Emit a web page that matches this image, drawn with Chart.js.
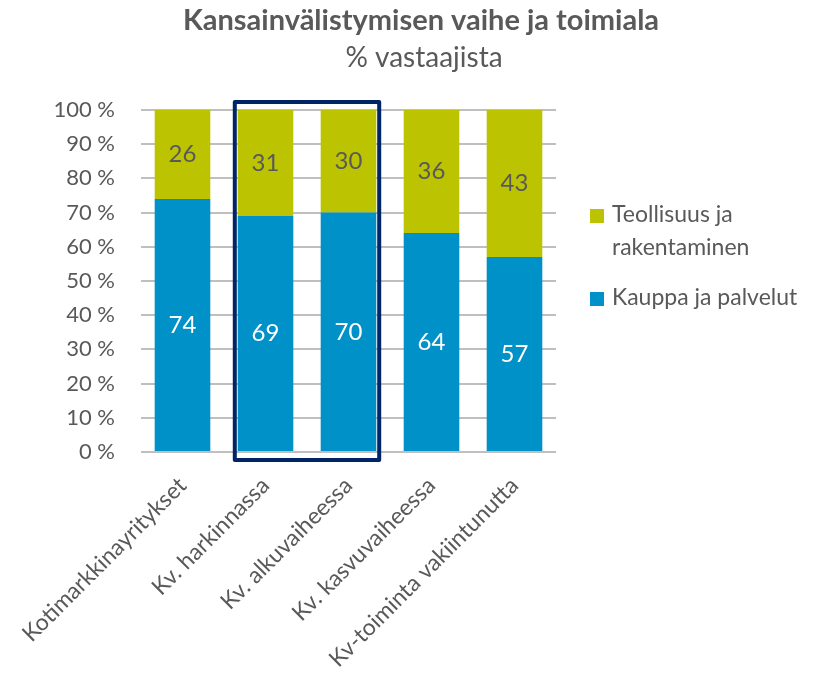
<!DOCTYPE html>
<html>
<head>
<meta charset="utf-8">
<script src="https://cdn.jsdelivr.net/npm/chart.js@4"></script>
<style>
  html, body { margin: 0; padding: 0; background: #fff; }
  #wrap { width: 825px; height: 681px; }
</style>
</head>
<body>
<div id="wrap"><canvas id="chart" width="825" height="681"></canvas></div>
<script>
const categories = ['Kotimarkkinayritykset', 'Kv. harkinnassa', 'Kv. alkuvaiheessa', 'Kv. kasvuvaiheessa', 'Kv-toiminta vakiintunutta'];
const kauppa = [74, 69, 70, 64, 57];
const teollisuus = [26, 31, 30, 36, 43];
const yTicks = [0, 10, 20, 30, 40, 50, 60, 70, 80, 90, 100];

const FONT = 'Lato, "Open Sans", sans-serif';
const GREY = '#595959';
const BLUE = '#0091C8';
const GREEN = '#BCC402';

// title + subtitle, centred over the whole picture
const heading = {
  id: 'heading',
  afterDraw(chart) {
    const ctx = chart.ctx;
    ctx.save();
    ctx.textAlign = 'center';
    ctx.textBaseline = 'middle';
    ctx.fillStyle = GREY;
    ctx.font = 'bold 29px ' + FONT;
    ctx.fillText('Kansainvälistymisen vaihe ja toimiala', 421, 21);
    ctx.font = '28px ' + FONT;
    ctx.fillText('% vastaajista', 424, 58);
    ctx.restore();
  }
};

// numbers inside the bars
const barLabels = {
  id: 'barLabels',
  afterDatasetsDraw(chart) {
    const ctx = chart.ctx;
    ctx.save();
    ctx.font = '24px ' + FONT;
    ctx.textAlign = 'center';
    ctx.textBaseline = 'middle';
    chart.data.datasets.forEach((ds, i) => {
      chart.getDatasetMeta(i).data.forEach((bar, j) => {
        const mid = (bar.y + bar.base) / 2;
        ctx.fillStyle = ds.labelColor;
        ctx.fillText(ds.data[j], bar.x, mid);
      });
    });
    ctx.restore();
  }
};

// frame around the two "Kv." early-stage groups
const highlight = {
  id: 'highlight',
  afterDraw(chart) {
    const x = chart.scales.x;
    const step = x.getPixelForValue(1) - x.getPixelForValue(0);
    const left = x.getPixelForValue(1) - step * 0.37;
    const right = x.getPixelForValue(2) + step * 0.37;
    const top = chart.chartArea.top - 8;
    const bottom = chart.chartArea.bottom + 8;
    const ctx = chart.ctx;
    ctx.save();
    ctx.strokeStyle = '#002566';
    ctx.lineWidth = 4;
    ctx.lineJoin = 'round';
    ctx.strokeRect(left, top, right - left, bottom - top);
    ctx.restore();
  }
};

// legend on the right, with a wrapped first entry
const sideLegend = {
  id: 'sideLegend',
  afterDraw(chart) {
    const ctx = chart.ctx;
    const items = [
      { ds: chart.data.datasets[1], lines: ['Teollisuus ja', 'rakentaminen'], y: 215 },
      { ds: chart.data.datasets[0], lines: ['Kauppa ja palvelut'], y: 298 }
    ];
    ctx.save();
    ctx.font = '23px ' + FONT;
    ctx.textBaseline = 'middle';
    items.forEach(it => {
      ctx.fillStyle = it.ds.backgroundColor;
      ctx.fillRect(590, it.y - 6, 14, 14);
      ctx.fillStyle = GREY;
      it.lines.forEach((t, k) => ctx.fillText(t, 612, it.y + k * 33));
    });
    ctx.restore();
  }
};

new Chart(document.getElementById('chart'), {
  type: 'bar',
  data: {
    labels: categories,
    datasets: [
      { label: 'Kauppa ja palvelut', data: kauppa, backgroundColor: BLUE, labelColor: '#ffffff' },
      { label: 'Teollisuus ja rakentaminen', data: teollisuus, backgroundColor: GREEN, labelColor: GREY }
    ]
  },
  options: {
    responsive: false,
    animation: false,
    layout: { padding: { top: 110, right: 269, left: 0, bottom: 0 } },
    datasets: { bar: { barPercentage: 0.67, categoryPercentage: 1.0 } },
    plugins: {
      legend: { display: false },
      tooltip: { enabled: false }
    },
    scales: {
      x: {
        stacked: true,
        grid: { display: false },
        border: { display: false },
        ticks: {
          color: GREY,
          font: { family: FONT, size: 23 },
          minRotation: 45,
          maxRotation: 45,
          padding: 12
        },
        afterFit(scale) { scale.height = 229; }
      },
      y: {
        stacked: true,
        min: 0,
        max: 100,
        afterBuildTicks(scale) { scale.ticks = yTicks.map(v => ({ value: v })); },
        grid: { color: '#BFBFBF', lineWidth: 2, drawTicks: false },
        border: { display: false },
        ticks: {
          color: GREY,
          font: { family: FONT, size: 22 },
          padding: 26,
          callback: v => v + ' %'
        },
        afterFit(scale) { scale.width = 141; }
      }
    }
  },
  plugins: [barLabels, highlight, sideLegend, heading]
});
</script>
</body>
</html>
